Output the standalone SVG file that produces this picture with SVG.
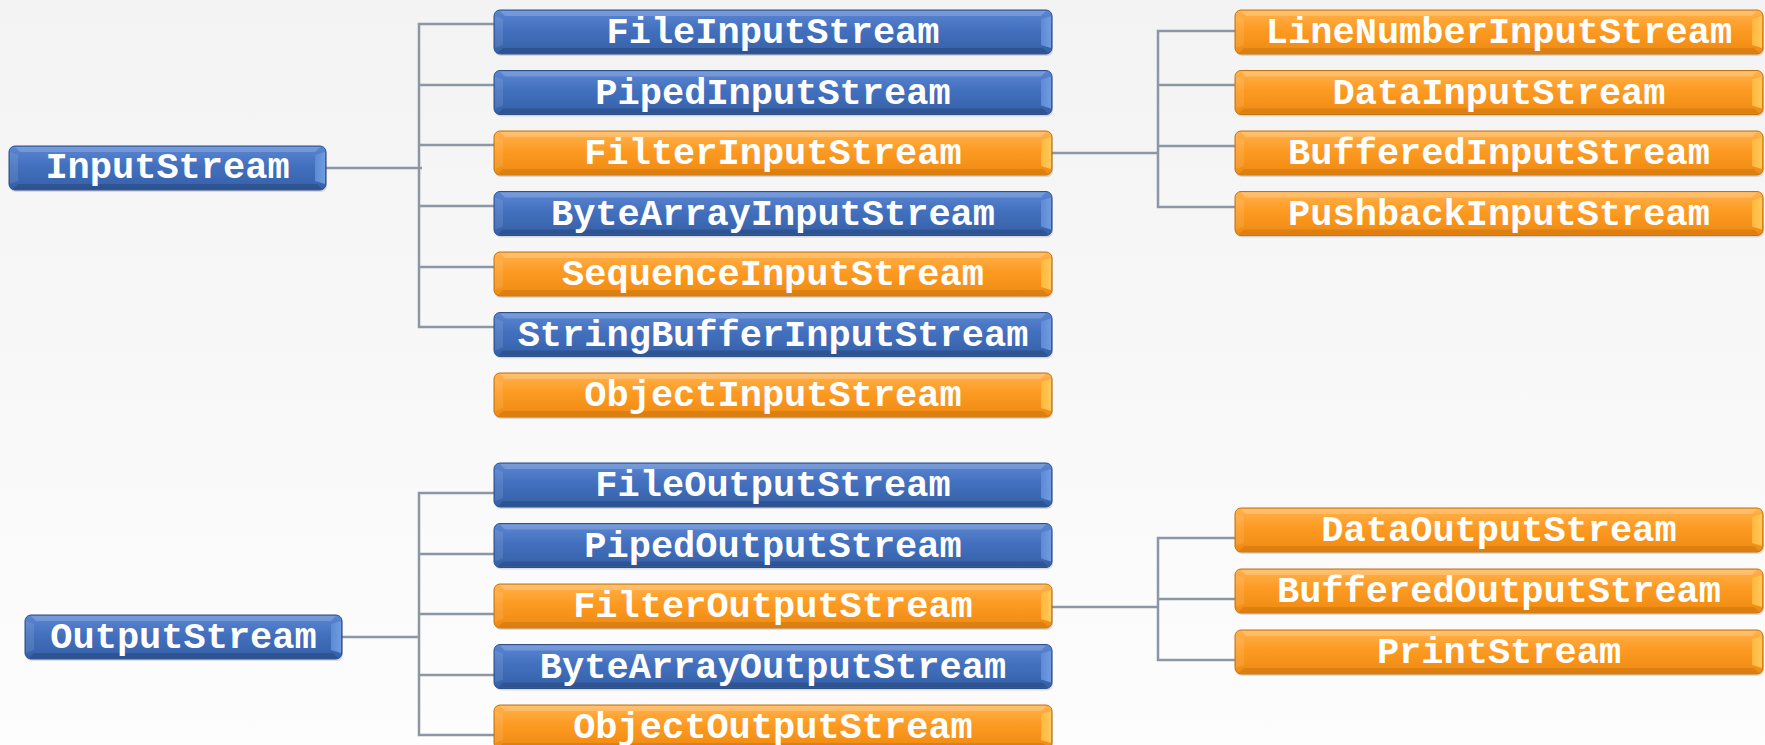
<svg xmlns="http://www.w3.org/2000/svg" xmlns:xlink="http://www.w3.org/1999/xlink" width="1765" height="745" viewBox="0 0 1765 745">
  <style>
    .lbl { font-family: "Liberation Mono", "Courier New", monospace; font-weight: bold; font-size: 37px; fill: #ffffff; text-anchor: middle; }
    .conn { fill: none; stroke: #8c96a4; stroke-width: 2.5; }
  </style>
  <defs>
    <linearGradient id="bg" x1="0" y1="0" x2="0" y2="1">
      <stop offset="0" stop-color="#f3f3f3"/>
      <stop offset="1" stop-color="#fdfdfd"/>
    </linearGradient>
    <linearGradient id="blueFill" x1="0" y1="0" x2="0" y2="1">
      <stop offset="0" stop-color="#5b86d2"/>
      <stop offset="0.45" stop-color="#4370be"/>
      <stop offset="1" stop-color="#3560a8"/>
    </linearGradient>
    <linearGradient id="orangeFill" x1="0" y1="0" x2="0" y2="1">
      <stop offset="0" stop-color="#ffb24e"/>
      <stop offset="0.45" stop-color="#fd9a22"/>
      <stop offset="1" stop-color="#ee8a12"/>
    </linearGradient>
    <linearGradient id="blueEdge" x1="0" y1="0" x2="1" y2="0">
      <stop offset="0" stop-color="#5c8ad6"/>
      <stop offset="1" stop-color="#6f9be0"/>
    </linearGradient>
    <linearGradient id="orangeEdge" x1="0" y1="0" x2="1" y2="0">
      <stop offset="0" stop-color="#ffb73c"/>
      <stop offset="1" stop-color="#ffc95a"/>
    </linearGradient>

    <!-- bevelled bars, one per width/colour -->
    <g id="rootBlue">
      <rect x="1" y="2" width="317" height="44" rx="6" fill="#000" opacity="0.12"/>
      <rect x="0" y="0" width="317" height="44" rx="6" fill="url(#blueFill)" stroke="#2d4f8c" stroke-width="1"/>
      <path d="M6,1 H311 L306,6 H11 Z" fill="#fff" opacity="0.18"/>
      <path d="M1,6 V38 L9,35 V9 Z" fill="#fff" opacity="0.1"/>
      <path d="M316,6 V38 L306,35 V9 Z" fill="url(#blueEdge)"/>
      <path d="M9,38 H308 L313,43 H4 Z" fill="#000" opacity="0.15"/>
    </g>
    <g id="midBlue">
      <rect x="1" y="2" width="558" height="44" rx="6" fill="#000" opacity="0.12"/>
      <rect x="0" y="0" width="558" height="44" rx="6" fill="url(#blueFill)" stroke="#2d4f8c" stroke-width="1"/>
      <path d="M6,1 H552 L547,6 H11 Z" fill="#fff" opacity="0.18"/>
      <path d="M1,6 V38 L9,35 V9 Z" fill="#fff" opacity="0.1"/>
      <path d="M557,6 V38 L547,35 V9 Z" fill="url(#blueEdge)"/>
      <path d="M9,38 H549 L554,43 H4 Z" fill="#000" opacity="0.15"/>
    </g>
    <g id="midOrange">
      <rect x="1" y="2" width="558" height="44" rx="6" fill="#000" opacity="0.12"/>
      <rect x="0" y="0" width="558" height="44" rx="6" fill="url(#orangeFill)" stroke="#c0720e" stroke-width="1"/>
      <path d="M6,1 H552 L547,6 H11 Z" fill="#fff" opacity="0.2"/>
      <path d="M1,6 V38 L9,35 V9 Z" fill="#fff" opacity="0.1"/>
      <path d="M557,6 V38 L547,35 V9 Z" fill="url(#orangeEdge)"/>
      <path d="M9,38 H549 L554,43 H4 Z" fill="#8a4a00" opacity="0.18"/>
    </g>
    <g id="rightOrange">
      <rect x="1" y="2" width="528" height="44" rx="6" fill="#000" opacity="0.12"/>
      <rect x="0" y="0" width="528" height="44" rx="6" fill="url(#orangeFill)" stroke="#c0720e" stroke-width="1"/>
      <path d="M6,1 H522 L517,6 H11 Z" fill="#fff" opacity="0.2"/>
      <path d="M1,6 V38 L9,35 V9 Z" fill="#fff" opacity="0.1"/>
      <path d="M527,6 V38 L517,35 V9 Z" fill="url(#orangeEdge)"/>
      <path d="M9,38 H519 L524,43 H4 Z" fill="#8a4a00" opacity="0.18"/>
    </g>
  </defs>

  <rect x="0" y="0" width="1765" height="745" fill="url(#bg)"/>

  <!-- connectors -->
  <g id="connectors" class="conn">
    <!-- InputStream tree -->
    <path d="M326,168 H422"/>
    <path d="M494,24 H419 V327 H494"/>
    <path d="M419,85 H494 M419,145 H494 M419,206 H494 M419,267 H494"/>
    <!-- FilterInputStream tree -->
    <path d="M1052,153 H1158"/>
    <path d="M1235,31 H1158 V207 H1235"/>
    <path d="M1158,85 H1235 M1158,146 H1235"/>
    <!-- OutputStream tree -->
    <path d="M342,637 H419"/>
    <path d="M494,493 H419 V735 H494"/>
    <path d="M419,554 H494 M419,614 H494 M419,675 H494"/>
    <!-- FilterOutputStream tree -->
    <path d="M1052,607 H1158"/>
    <path d="M1235,538 H1158 V660 H1235"/>
    <path d="M1158,599 H1235"/>
  </g>

  <!-- input side -->
  <g id="InputStream" transform="translate(9,146)"><use href="#rootBlue"/><text class="lbl" x="158.5" y="32">InputStream</text></g>
  <g id="FileInputStream" transform="translate(494,10)"><use href="#midBlue"/><text class="lbl" x="279" y="33">FileInputStream</text></g>
  <g id="PipedInputStream" transform="translate(494,70.5)"><use href="#midBlue"/><text class="lbl" x="279" y="33">PipedInputStream</text></g>
  <g id="FilterInputStream" transform="translate(494,131)"><use href="#midOrange"/><text class="lbl" x="279" y="33">FilterInputStream</text></g>
  <g id="ByteArrayInputStream" transform="translate(494,191.5)"><use href="#midBlue"/><text class="lbl" x="279" y="33">ByteArrayInputStream</text></g>
  <g id="SequenceInputStream" transform="translate(494,252)"><use href="#midOrange"/><text class="lbl" x="279" y="33">SequenceInputStream</text></g>
  <g id="StringBufferInputStream" transform="translate(494,312.5)"><use href="#midBlue"/><text class="lbl" x="279" y="33">StringBufferInputStream</text></g>
  <g id="ObjectInputStream" transform="translate(494,373)"><use href="#midOrange"/><text class="lbl" x="279" y="33">ObjectInputStream</text></g>

  <g id="LineNumberInputStream" transform="translate(1235,10)"><use href="#rightOrange"/><text class="lbl" x="264" y="33">LineNumberInputStream</text></g>
  <g id="DataInputStream" transform="translate(1235,70.5)"><use href="#rightOrange"/><text class="lbl" x="264" y="33">DataInputStream</text></g>
  <g id="BufferedInputStream" transform="translate(1235,131)"><use href="#rightOrange"/><text class="lbl" x="264" y="33">BufferedInputStream</text></g>
  <g id="PushbackInputStream" transform="translate(1235,191.5)"><use href="#rightOrange"/><text class="lbl" x="264" y="33">PushbackInputStream</text></g>

  <!-- output side -->
  <g id="OutputStream" transform="translate(25,615)"><use href="#rootBlue"/><text class="lbl" x="158.5" y="33">OutputStream</text></g>
  <g id="FileOutputStream" transform="translate(494,463)"><use href="#midBlue"/><text class="lbl" x="279" y="33">FileOutputStream</text></g>
  <g id="PipedOutputStream" transform="translate(494,523.5)"><use href="#midBlue"/><text class="lbl" x="279" y="33">PipedOutputStream</text></g>
  <g id="FilterOutputStream" transform="translate(494,584)"><use href="#midOrange"/><text class="lbl" x="279" y="33">FilterOutputStream</text></g>
  <g id="ByteArrayOutputStream" transform="translate(494,644.5)"><use href="#midBlue"/><text class="lbl" x="279" y="33">ByteArrayOutputStream</text></g>
  <g id="ObjectOutputStream" transform="translate(494,705)"><use href="#midOrange"/><text class="lbl" x="279" y="33">ObjectOutputStream</text></g>

  <g id="DataOutputStream" transform="translate(1235,508)"><use href="#rightOrange"/><text class="lbl" x="264" y="33">DataOutputStream</text></g>
  <g id="BufferedOutputStream" transform="translate(1235,569)"><use href="#rightOrange"/><text class="lbl" x="264" y="33">BufferedOutputStream</text></g>
  <g id="PrintStream" transform="translate(1235,630)"><use href="#rightOrange"/><text class="lbl" x="264" y="33">PrintStream</text></g>
</svg>
